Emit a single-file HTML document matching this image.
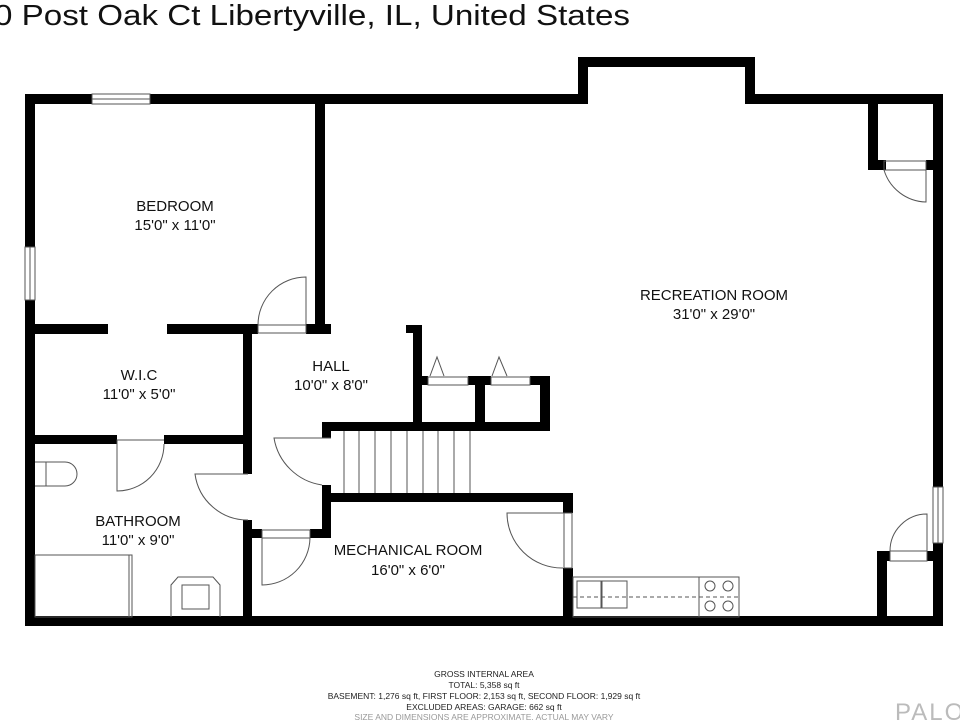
<!DOCTYPE html>
<html><head><meta charset="utf-8"><style>
html,body{margin:0;padding:0;background:#fff;width:960px;height:720px;overflow:hidden}
svg{display:block}
text{font-family:"Liberation Sans","DejaVu Sans",sans-serif}
</style></head><body>
<svg width="960" height="720" viewBox="0 0 960 720" xmlns="http://www.w3.org/2000/svg">
<text x="-6" y="25" font-size="29" fill="#111" textLength="636" lengthAdjust="spacingAndGlyphs">0 Post Oak Ct Libertyville, IL, United States</text>
<g fill="#000">
<rect x="25" y="94" width="563" height="10"/>
<rect x="578" y="57" width="177" height="10"/>
<rect x="578" y="57" width="10" height="47"/>
<rect x="745" y="57" width="10" height="47"/>
<rect x="745" y="94" width="198" height="10"/>
<rect x="25" y="94" width="10" height="532"/>
<rect x="933" y="94" width="10" height="532"/>
<rect x="25" y="616" width="918" height="10"/>
<rect x="868" y="104" width="10" height="66"/>
<rect x="868" y="160" width="18" height="10"/>
<rect x="926" y="160" width="8" height="10"/>
<rect x="877" y="551" width="10" height="70"/>
<rect x="877" y="551" width="13" height="10"/>
<rect x="927" y="551" width="8" height="10"/>
<rect x="315" y="104" width="10" height="230"/>
<rect x="35" y="324" width="73" height="10"/>
<rect x="167" y="324" width="91" height="10"/>
<rect x="306" y="324" width="25" height="10"/>
<rect x="243" y="324" width="9" height="150"/>
<rect x="243" y="520" width="9" height="100"/>
<rect x="35" y="435" width="82" height="9"/>
<rect x="164" y="435" width="79" height="9"/>
<rect x="252" y="529" width="10" height="9"/>
<rect x="310" y="529" width="21" height="9"/>
<rect x="322" y="422" width="9" height="16"/>
<rect x="322" y="485" width="9" height="53"/>
<rect x="322" y="422" width="228" height="9"/>
<rect x="322" y="493" width="251" height="9"/>
<rect x="563" y="493" width="10" height="20"/>
<rect x="563" y="568" width="10" height="52"/>
<rect x="406" y="325" width="16" height="8"/>
<rect x="413" y="325" width="9" height="106"/>
<rect x="422" y="376" width="6" height="9"/>
<rect x="468" y="376" width="23" height="9"/>
<rect x="530" y="376" width="20" height="9"/>
<rect x="475" y="376" width="10" height="50"/>
<rect x="540" y="376" width="10" height="50"/>
</g>
<g fill="#fff" stroke="#555" stroke-width="1">
<rect x="92" y="94" width="58" height="10"/>
<rect x="25" y="247" width="10" height="53"/>
<rect x="933" y="487" width="10" height="56"/>
</g>
<g fill="none" stroke="#555" stroke-width="1">
<line x1="92" y1="99" x2="150" y2="99"/>
<line x1="30" y1="247" x2="30" y2="300"/>
<line x1="938" y1="487" x2="938" y2="543"/>
<path d="M306 329 L306 277 A48 48 0 0 0 258 325"/><rect x="258" y="325" width="48" height="8"/>
<path d="M164 440 L117 440 L117 491 A47 47 0 0 0 164 444"/>
<path d="M248 474 L195 474 A53 53 0 0 0 248 520"/>
<path d="M262 538 L262 585 A48 48 0 0 0 310 538"/><rect x="262" y="530" width="48" height="8"/>
<path d="M331 438 L274 438 A57 57 0 0 0 322 485"/>
<path d="M568 513 L507 513 A55 55 0 0 0 563 568"/><rect x="564" y="513" width="8" height="55"/>
<path d="M884 170 A45 45 0 0 0 926 202 L926 170"/><rect x="884" y="161" width="42" height="9"/>
<path d="M890 551 A37 37 0 0 1 927 514 L927 551"/><rect x="890" y="551" width="37" height="10"/>
<rect x="428" y="377" width="40" height="8"/><rect x="491" y="377" width="39" height="8"/>
<path d="M430 376 L437 357 L444 376 M492 376 L499 357 L507 376"/>
<line x1="344" y1="431" x2="344" y2="493"/><line x1="359" y1="431" x2="359" y2="493"/>
<line x1="375" y1="431" x2="375" y2="493"/><line x1="391" y1="431" x2="391" y2="493"/>
<line x1="407" y1="431" x2="407" y2="493"/><line x1="423" y1="431" x2="423" y2="493"/>
<line x1="438" y1="431" x2="438" y2="493"/><line x1="454" y1="431" x2="454" y2="493"/>
<line x1="470" y1="431" x2="470" y2="493"/>
<path d="M35 462 L65 462 A12 12 0 0 1 65 486 L35 486 M46 462 L46 486"/>
<rect x="35" y="555" width="97" height="62"/><line x1="129" y1="555" x2="129" y2="617"/><line x1="132" y1="555" x2="132" y2="617"/>
<path d="M171 617 L171 585 L178 577 L213 577 L220 585 L220 617"/><rect x="182" y="585" width="27" height="24"/>
<rect x="573" y="577" width="166" height="40"/>
<rect x="577" y="581" width="24" height="27"/><rect x="602" y="581" width="25" height="27"/>
<rect x="699" y="577" width="40" height="40"/>
<circle cx="710" cy="586" r="5"/><circle cx="728" cy="586" r="5"/><circle cx="710" cy="606" r="5"/><circle cx="728" cy="606" r="5"/>
<line x1="573" y1="597" x2="739" y2="597" stroke-dasharray="4 3"/>
</g>
<g font-size="15" fill="#111" text-anchor="middle">
<text x="175" y="211">BEDROOM</text><text x="175" y="230">15'0" x 11'0"</text>
<text x="714" y="300">RECREATION ROOM</text><text x="714" y="319">31'0" x 29'0"</text>
<text x="139" y="380">W.I.C</text><text x="139" y="399">11'0" x 5'0"</text>
<text x="331" y="371">HALL</text><text x="331" y="390">10'0" x 8'0"</text>
<text x="138" y="526">BATHROOM</text><text x="138" y="545">11'0" x 9'0"</text>
<text x="408" y="555">MECHANICAL ROOM</text><text x="408" y="575">16'0" x 6'0"</text>
</g>
<g font-size="8.5" fill="#222" text-anchor="middle">
<text x="484" y="677">GROSS INTERNAL AREA</text>
<text x="484" y="688">TOTAL: 5,358 sq ft</text>
<text x="484" y="699">BASEMENT: 1,276 sq ft, FIRST FLOOR: 2,153 sq ft, SECOND FLOOR: 1,929 sq ft</text>
<text x="484" y="710">EXCLUDED AREAS: GARAGE: 662 sq ft</text>
<text x="484" y="720" fill="#999">SIZE AND DIMENSIONS ARE APPROXIMATE, ACTUAL MAY VARY</text>
</g>
<text x="895" y="720" font-size="24" fill="#bbb" letter-spacing="2">PALO</text>
</svg>
</body></html>
